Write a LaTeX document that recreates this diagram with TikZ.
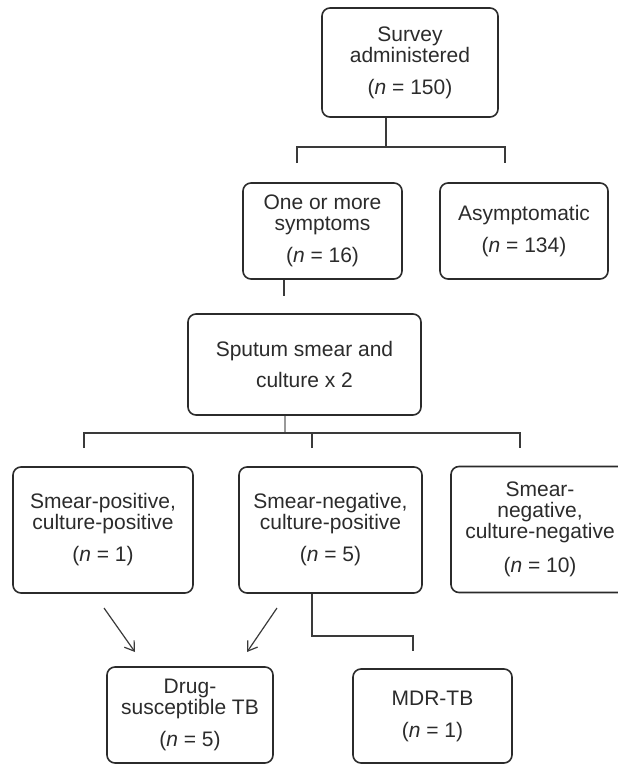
\documentclass[tikz,border=0pt]{standalone}
\usepackage{fontspec}
\setmainfont{Liberation Sans}
\usetikzlibrary{arrows.meta}
\definecolor{ink}{HTML}{2B2B2B}
\definecolor{linec}{HTML}{3A3A3A}
\tikzset{
  box/.style={draw=ink, line width=1.6pt, rounded corners=8pt, align=center,
    text=ink, inner sep=0pt, font=\fontsize{21}{21}\selectfont},
  conn/.style={draw=linec, line width=1.2pt},
  arr/.style={conn, -{Straight Barb[length=9pt,width=12pt,line width=1.2pt]}}
}
\newcommand{\nn}[1]{(\textit{n} = #1)}
\begin{document}
\begin{tikzpicture}[x=1pt,y=-1pt]
\useasboundingbox (0,0) rectangle (618,764);
\node[box, minimum width=176pt, minimum height=109pt] (survey) at (410,62.5)
  {Survey\\administered\\[11pt]\nn{150}};
\node[box, minimum width=159pt, minimum height=96pt] (sym) at (322.5,231)
  {One or more\\symptoms\\[11pt]\nn{16}};
\node[box, minimum width=168pt, minimum height=96pt] (asym) at (524,231)
  {Asymptomatic\\[11pt]\nn{134}};
\node[box, minimum width=233pt, minimum height=101pt] (sput) at (304.5,364.5)
  {Sputum smear and\\[10pt]culture x 2};
\node[box, minimum width=180pt, minimum height=126pt] (spcp) at (103,530)
  {Smear-positive,\\culture-positive\\[11pt]\nn{1}};
\node[box, minimum width=183pt, minimum height=126pt] (sncp) at (330.5,530)
  {Smear-negative,\\culture-positive\\[11pt]\nn{5}};
\node[box, minimum width=178pt, minimum height=126pt] (sncn) at (540,529.5)
  {Smear-\\negative,\\culture-negative\\[13pt]\nn{10}};
\node[box, minimum width=166pt, minimum height=96pt] (drug) at (190,715)
  {Drug-\\susceptible TB\\[11pt]\nn{5}};
\node[box, minimum width=159pt, minimum height=94pt] (mdr) at (432.5,716)
  {MDR-TB\\[11pt]\nn{1}};

% survey split
\coordinate (j1) at (386,147);
\coordinate (l1) at (297,163);
\coordinate (r1) at (505,163);
\draw[conn] (j1 |- survey.south) -- (j1);
\draw[conn] (l1) -- (l1 |- j1) -- (r1 |- j1) -- (r1);
% symptoms stub
\coordinate (s1) at (284,296);
\draw[conn] (s1 |- sym.south) -- (s1);
% sputum split
\coordinate (j2) at (285,433);
\coordinate (a2) at (84,448);
\coordinate (b2) at (312,448);
\coordinate (c2) at (520,448);
\draw[conn, draw=gray!80] (j2 |- sput.south) -- (j2);
\draw[conn] (a2) -- (a2 |- j2) -- (c2 |- j2) -- (c2);
\draw[conn] (b2) -- (b2 |- j2);
% arrows to drug-susceptible
\coordinate (p1) at (104,608);
\coordinate (q1) at (135,652);
\coordinate (p2) at (277,608);
\coordinate (q2) at (247,652);
\draw[arr] (p1) -- (q1);
\draw[arr] (p2) -- (q2);
% to MDR
\coordinate (m1) at (312,636);
\coordinate (m2) at (413,651);
\draw[conn] (m1 |- sncp.south) -- (m1) -- (m1 -| m2) -- (m2);
\end{tikzpicture}
\end{document}
